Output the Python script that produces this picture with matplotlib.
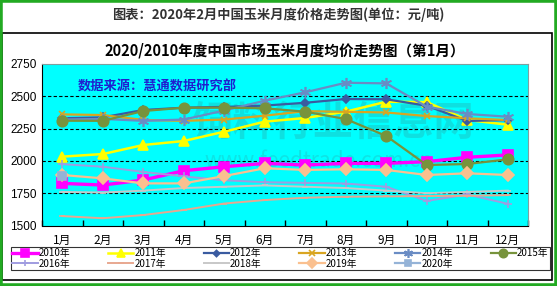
import numpy as np
import matplotlib.pyplot as plt
from matplotlib.patches import Rectangle

plt.rcParams['font.family'] = ['Noto Sans CJK SC', 'DejaVu Sans']

# data (元/吨)
months = ['1月', '2月', '3月', '4月', '5月', '6月', '7月', '8月', '9月', '10月', '11月', '12月']
y2010 = [1826, 1813, 1852, 1924, 1955, 1981, 1968, 1981, 1981, 1994, 2028, 2046]
y2011 = [2033, 2053, 2123, 2154, 2226, 2304, 2332, 2381, 2458, 2455, 2317, 2280]
y2012 = [2330, 2337, 2394, 2412, 2418, 2428, 2450, 2479, 2477, 2427, 2309, 2316]
y2013 = [2360, 2355, 2317, 2310, 2320, 2350, 2385, 2380, 2375, 2347, 2330, 2316]
y2014 = [2320, 2325, 2310, 2320, 2390, 2466, 2531, 2605, 2600, 2420, 2363, 2342]
y2015 = [2311, 2310, 2386, 2412, 2412, 2407, 2381, 2324, 2193, 1968, 1976, 2012]
y2016 = [1975, 1955, 1915, 1880, 1850, 1835, 1830, 1825, 1800, 1690, 1740, 1668]
y2017 = [1573, 1556, 1581, 1620, 1670, 1697, 1715, 1723, 1725, 1728, 1730, 1735]
y2018 = [1760, 1755, 1770, 1790, 1800, 1810, 1800, 1790, 1770, 1750, 1760, 1770]
y2019 = [1891, 1865, 1826, 1826, 1883, 1943, 1930, 1935, 1930, 1891, 1904, 1891]
y2020 = [1886]

series = [
    ('2010年', y2010, '#FF00FF', 's', 7, 2.4),
    ('2011年', y2011, '#FFFF00', '^', 7, 1.8),
    ('2012年', y2012, '#3A5BA0', 'D', 4, 1.6),
    ('2013年', y2013, '#D9A521', 'x', 5, 1.6),
    ('2014年', y2014, '#6A8CC4', (6, 2, 0), 8, 1.6),
    ('2015年', y2015, '#77933C', 'o', 7.5, 1.6),
    ('2016年', y2016, '#A09CE0', '+', 6, 1.4),
    ('2017年', y2017, '#E8A890', '_', 5, 1.4),
    ('2018年', y2018, '#C8C8C8', '_', 5, 1.4),
    ('2019年', y2019, '#FAC08F', 'D', 6, 1.6),
    ('2020年', y2020, '#95B3D7', 's', 6, 1.6),
]

fig = plt.figure(figsize=(5.57, 2.86), dpi=100)
ax = fig.add_axes([42 / 557, 1 - 225.5 / 286, 486 / 557, 161.5 / 286])
ax.set_facecolor('#00FFFF')

# watermark
ax.text(0.6, 0.63, '饲料行业信息网', transform=ax.transAxes, ha='center', va='center',
        fontsize=29, color='#2AA8A8', alpha=0.35, fontweight='bold', zorder=1)
ax.text(0.57, 0.40, 'www.feedtrade.com.cn', transform=ax.transAxes, ha='center', va='center',
        fontsize=15, color='#2AA8A8', alpha=0.3, zorder=1)

x = np.arange(len(months))
handles = []
for name, vals, color, marker, ms, lw in series:
    xs = x[:len(vals)]
    h, = ax.plot(xs, vals, color=color, marker=marker, markersize=ms, linewidth=lw,
                 markeredgecolor=color, markeredgewidth=1.2, label=name, zorder=3)
    handles.append(h)

ax.set_xlim(-0.5, 11.5)
ax.set_ylim(1500, 2750)
ax.set_yticks([1500, 1750, 2000, 2250, 2500, 2750])
ax.set_xticks(x)
ax.set_xticklabels(months)
ax.set_xticks(np.arange(-0.5, 12, 1), minor=True)
ax.tick_params(axis='x', which='major', length=0, labelsize=8.5, pad=6)
ax.tick_params(axis='x', which='minor', direction='in', length=4, width=1)
ax.tick_params(axis='y', length=0, labelsize=8.5, pad=4)
for lab in ax.get_yticklabels():
    lab.set_fontfamily(['Liberation Sans', 'DejaVu Sans'])

for yv in [1750, 2000, 2250, 2500]:
    ax.axhline(yv, color='black', linestyle=(0, (3, 2)), linewidth=0.8, zorder=2)

ax.spines['left'].set_color('black')
ax.spines['bottom'].set_color('black')
ax.spines['top'].set_color('#7F9F9F')
ax.spines['right'].set_color('#7F9F9F')

ax.text(0.074, 0.86, '数据来源：慧通数据研究部', transform=ax.transAxes, fontsize=9.5,
        fontweight='bold', color='#1F1FD0', va='center', zorder=4)

# titles
fig.text(0.5, 1 - 15 / 286, '图表：2020年2月中国玉米月度价格走势图(单位：元/吨)',
         ha='center', va='center', fontsize=9.5, fontweight='bold', color='#333333')
fig.text(285 / 557, 1 - 50 / 286, '2020/2010年度中国市场玉米月度均价走势图（第1月）',
         ha='center', va='center', fontsize=10.5, fontweight='bold', color='black')

# legend (column-major order so rows read 2010..2015 / 2016..2020)
order = [0, 6, 1, 7, 2, 8, 3, 9, 4, 10, 5]
leg = fig.legend([handles[i] for i in order], [series[i][0] for i in order],
                 loc='lower left', bbox_to_anchor=(11 / 557, 16 / 286, 539 / 557, 22 / 286),
                 mode='expand', ncol=6, fontsize=7, frameon=True, fancybox=False,
                 edgecolor='black', borderpad=0.15, labelspacing=0.05, handlelength=2.6,
                 handletextpad=0.1, borderaxespad=0, markerscale=0.8)
leg.get_frame().set_linewidth(0.8)

# frames
fig.patches.append(Rectangle((2 / 557, 6 / 286), 550 / 557, 247 / 286, transform=fig.transFigure,
                             fill=False, edgecolor='black', linewidth=1.2))
fig.patches.append(Rectangle((0, 0), 1, 1, transform=fig.transFigure,
                             fill=False, edgecolor='#22AA22', linewidth=4))

fig.savefig('out.png', dpi=100)
